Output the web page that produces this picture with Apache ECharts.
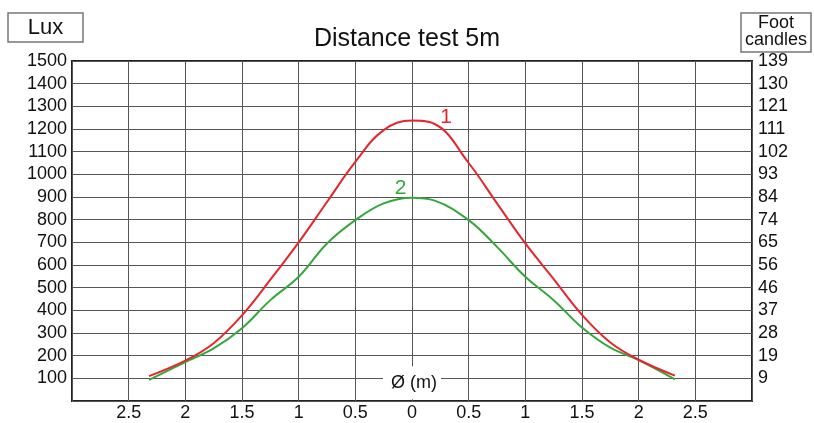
<!DOCTYPE html>
<html>
<head>
<meta charset="utf-8">
<script src="https://cdn.jsdelivr.net/npm/echarts@6/dist/echarts.min.js"></script>
<style>
html,body{margin:0;padding:0;background:#fff;}
#chart{width:814px;height:423px;}
</style>
</head>
<body>
<div id="chart"></div>
<script>
// Data
const distances = [-2.32, -2.0, -1.75, -1.5, -1.25, -1.0, -0.75, -0.5, -0.25, 0, 0.2, 0.5, 0.75, 1.0, 1.25, 1.5, 1.75, 2.0, 2.32];
const series1Lux = [110, 178, 255, 378, 535, 700, 878, 1055, 1195, 1237, 1222, 1050, 872, 695, 538, 380, 258, 182, 112];
const series2Lux = [93, 172, 232, 321, 445, 548, 695, 798, 872, 897, 884, 798, 680, 548, 445, 324, 235, 180, 95];
const luxTicks = [0, 100, 200, 300, 400, 500, 600, 700, 800, 900, 1000, 1100, 1200, 1300, 1400, 1500];
const footCandleTicks = ['', '9', '19', '28', '37', '46', '56', '65', '74', '84', '93', '102', '111', '121', '130', '139'];
const titleText = 'Distance test 5m';
const leftUnit = 'Lux';
const rightUnit = ['Foot', 'candles'];
const xName = 'Ø (m)';
const seriesNames = ['1', '2'];

const FONT = '"Liberation Sans", Arial, sans-serif';
const RED = '#e5262e';
const GREEN = '#34a83a';

const chart = echarts.init(document.getElementById('chart'));
const pairs = (vals) => distances.map((d, i) => [d, vals[i]]);

const option = {
  animation: false,
  backgroundColor: '#fff',
  textStyle: { fontFamily: FONT },
  title: {
    text: titleText, left: 'center', top: 22,
    textStyle: { fontFamily: FONT, fontSize: 25, fontWeight: 'normal', color: '#111' }
  },
  grid: {
    left: 72, right: 62, top: 61, bottom: 22,
    show: true, borderColor: '#222', borderWidth: 2, backgroundColor: 'transparent'
  },
  xAxis: {
    type: 'value', min: -3, max: 3, interval: 0.5,
    axisLine: { show: false }, axisTick: { show: false },
    splitLine: { show: true, lineStyle: { color: '#555', width: 1 } },
    axisLabel: {
      fontFamily: FONT, fontSize: 18, color: '#111', margin: 3,
      formatter: v => (Math.abs(v) >= 3 ? '' : String(Math.abs(v)))
    }
  },
  yAxis: [
    {
      type: 'value', min: luxTicks[0], max: luxTicks[luxTicks.length - 1], interval: 100,
      axisLine: { show: false }, axisTick: { show: false },
      splitLine: { show: true, lineStyle: { color: '#555', width: 1 } },
      axisLabel: {
        fontFamily: FONT, fontSize: 18, color: '#111', margin: 5,
        formatter: v => (v === 0 ? '' : String(v))
      }
    },
    {
      type: 'value', min: luxTicks[0], max: luxTicks[luxTicks.length - 1], interval: 100,
      position: 'right',
      axisLine: { show: false }, axisTick: { show: false }, splitLine: { show: false },
      axisLabel: {
        fontFamily: FONT, fontSize: 18, color: '#111', margin: 6,
        formatter: v => footCandleTicks[Math.round(v / 100)] || ''
      }
    }
  ],
  series: [
    {
      name: seriesNames[0], type: 'line', data: pairs(series1Lux), smooth: 0.4,
      showSymbol: false, lineStyle: { color: RED, width: 2 }, z: 5
    },
    {
      name: seriesNames[1], type: 'line', data: pairs(series2Lux), smooth: 0.4,
      showSymbol: false, lineStyle: { color: GREEN, width: 2 }, z: 4
    }
  ]
};
chart.setOption(option);

// Annotations positioned through the chart's own coordinate system
const p1 = chart.convertToPixel({ gridIndex: 0 }, [0.3, 1250]);
const p2 = chart.convertToPixel({ gridIndex: 0 }, [-0.1, 940]);
const pX = chart.convertToPixel({ gridIndex: 0 }, [0, 78]);

chart.setOption({
  graphic: [
    { type: 'rect', shape: { x: 8, y: 13, width: 75, height: 29 },
      style: { fill: '#fff', stroke: '#777', lineWidth: 1.5 } },
    { type: 'text', x: 45.5, y: 28,
      style: { text: leftUnit, font: '22px ' + FONT, fill: '#111', align: 'center', verticalAlign: 'middle' } },
    { type: 'rect', shape: { x: 741, y: 13, width: 70, height: 39 },
      style: { fill: '#fff', stroke: '#777', lineWidth: 1.5 } },
    { type: 'text', x: 776, y: 23,
      style: { text: rightUnit[0], font: '18px ' + FONT, fill: '#111', align: 'center', verticalAlign: 'middle' } },
    { type: 'text', x: 776, y: 40,
      style: { text: rightUnit[1], font: '18px ' + FONT, fill: '#111', align: 'center', verticalAlign: 'middle' } },
    { type: 'rect', z: 10, shape: { x: pX[0] - 29, y: pX[1] - 17, width: 58, height: 33 },
      style: { fill: '#fff' } },
    { type: 'text', z: 11, x: pX[0] + 2, y: pX[1],
      style: { text: xName, font: '18px ' + FONT, fill: '#111', align: 'center', verticalAlign: 'middle' } },
    { type: 'text', z: 11, x: p1[0], y: p1[1],
      style: { text: seriesNames[0], font: '21px ' + FONT, fill: RED, align: 'center', verticalAlign: 'middle' } },
    { type: 'text', z: 11, x: p2[0], y: p2[1],
      style: { text: seriesNames[1], font: '21px ' + FONT, fill: GREEN, align: 'center', verticalAlign: 'middle' } }
  ]
});
</script>
</body>
</html>
